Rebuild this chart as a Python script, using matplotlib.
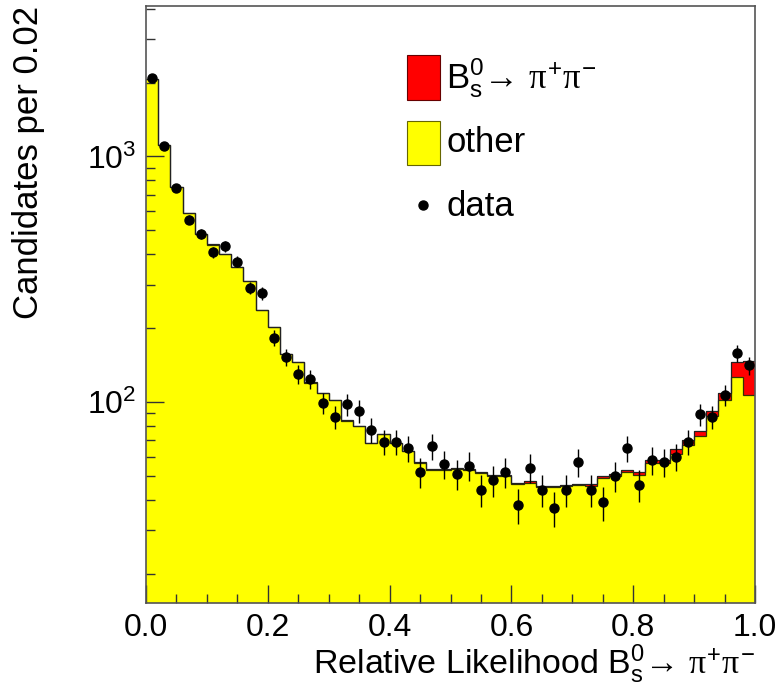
import matplotlib
matplotlib.use("Agg")
import matplotlib.pyplot as plt
import numpy as np
from matplotlib.patches import Rectangle
from matplotlib.ticker import LogLocator, MultipleLocator, NullFormatter

plt.rcParams['font.family'] = ['Liberation Sans', 'DejaVu Sans']
plt.rcParams['mathtext.fontset'] = 'custom'
plt.rcParams['mathtext.rm'] = 'Liberation Sans'
plt.rcParams['mathtext.sf'] = 'Liberation Sans'
plt.rcParams['mathtext.it'] = 'Liberation Serif'

# 50 bins of width 0.02 in relative likelihood
edges = np.linspace(0.0, 1.0, 51)

# "other" component (yellow), candidates per bin
other = [2070, 1110, 750, 590, 485, 438, 402, 355, 310, 237,
         202, 157, 146, 120, 109, 102, 84, 80, 68, 74,
         68, 63, 56.5, 53, 53, 53.5, 53, 51.5, 50, 50,
         46.5, 47, 45, 45, 45.5, 46, 45.5, 49, 50, 52,
         50.5, 56.5, 56.5, 61.6, 66.6, 72.5, 87.5, 102, 127, 107]

# Bs -> pi+ pi- signal component (red), stacked on top
signal = [0.2, 0.2, 0.2, 0.2, 0.2, 0.2, 0.2, 0.2, 0.2, 0.2,
          0.2, 0.2, 0.2, 0.2, 0.2, 0.2, 0.2, 0.2, 0.2, 0.2,
          0.3, 0.3, 0.3, 0.3, 0.3, 0.3, 0.3, 0.4, 0.4, 0.4,
          0.5, 0.5, 0.5, 0.6, 0.6, 0.6, 0.7, 0.8, 0.9, 1.0,
          1.2, 1.7, 1.8, 2.7, 3.2, 3.9, 4.3, 7.0, 19.0, 40.0]

# observed candidates
data = [2090, 1105, 746, 553, 485, 408, 431, 373, 292, 277,
        183, 152, 130, 124, 99, 87, 98, 92, 77, 69,
        69, 65, 52, 66, 56, 51, 55, 44, 48, 52,
        38, 54, 44, 37, 44, 57, 44, 39, 50, 65,
        46, 58, 57, 60, 69, 89, 87, 107, 158, 141]

other = np.array(other)
total = other + np.array(signal)
data = np.array(data)
centers = 0.5 * (edges[:-1] + edges[1:])

decay = r'$\mathrm{B_s^0}$→ $\pi^{+}\pi^{-}$'

fig = plt.figure(figsize=(7.8, 6.86), dpi=100)
ax = fig.add_axes([0.1872, 0.121, 0.7808, 0.8703])
ax.set_yscale('log')

ax.stairs(other, edges, baseline=1, fill=True, facecolor='#ffff00', edgecolor='none')
ax.stairs(total, edges, baseline=other, fill=True, facecolor='#ff0000', edgecolor='none')
ax.stairs(other, edges, baseline=None, color='#333300', lw=0.9)
ax.stairs(total, edges, baseline=None, color='#222222', lw=0.9)

ax.errorbar(centers, data, yerr=np.sqrt(data), fmt='o', color='black',
            ms=6.5, elinewidth=1.0, capsize=0, zorder=5)

ax.set_xlim(0, 1)
ax.set_ylim(15.2, 4100)

ax.xaxis.set_major_locator(MultipleLocator(0.2))
ax.xaxis.set_minor_locator(MultipleLocator(0.05))
ax.yaxis.set_major_locator(LogLocator(base=10))
ax.yaxis.set_minor_locator(LogLocator(base=10, subs=np.arange(2, 10)))
ax.yaxis.set_minor_formatter(NullFormatter())
ax.set_xticks([0, 0.2, 0.4, 0.6, 0.8, 1.0], ['0.0', '0.2', '0.4', '0.6', '0.8', '1.0'])

ax.tick_params(which='both', direction='in', top=False, right=False,
               labelsize=23, color='#333333')
ax.tick_params(which='major', length=13, width=1)
ax.tick_params(which='minor', length=6.5, width=1)
ax.tick_params(axis='x', pad=7)
ax.tick_params(axis='y', pad=7)
for sp in ax.spines.values():
    sp.set_color('#555555')
    sp.set_linewidth(1.2)

ax.set_xlabel('Relative Likelihood ' + decay, fontsize=24.5, loc='right')
ax.set_ylabel('Candidates per 0.02', fontsize=25, loc='top')
ax.xaxis.set_label_coords(1.0, -0.066)
ax.yaxis.set_label_coords(-0.166, 1.0)

# legend drawn in axes coordinates, ROOT style without a frame
ax.add_patch(Rectangle((0.428, 0.843), 0.055, 0.075, transform=ax.transAxes,
                       facecolor='#ff0000', edgecolor='#660000', lw=0.8, zorder=6))
ax.add_patch(Rectangle((0.428, 0.733), 0.055, 0.075, transform=ax.transAxes,
                       facecolor='#ffff00', edgecolor='#666600', lw=0.8, zorder=6))
ax.plot([0.455], [0.666], 'o', color='black', ms=6.5, transform=ax.transAxes,
        zorder=6)
ax.text(0.493, 0.880, decay, transform=ax.transAxes, fontsize=25,
        va='center', ha='left')
ax.text(0.493, 0.772, 'other', transform=ax.transAxes, fontsize=25,
        va='center', ha='left')
ax.text(0.493, 0.664, 'data', transform=ax.transAxes, fontsize=25,
        va='center', ha='left')

fig.savefig('out.png', dpi=100)
